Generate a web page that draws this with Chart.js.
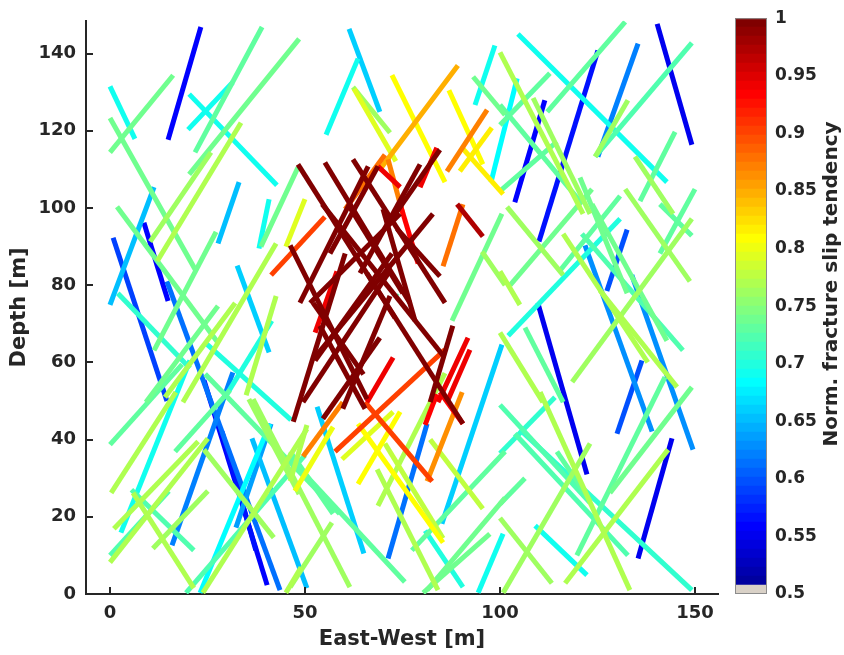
<!DOCTYPE html>
<html>
<head>
<meta charset="utf-8">
<title>Fracture slip tendency</title>
<script src="https://cdn.jsdelivr.net/npm/chart.js@4.4.1/dist/chart.umd.min.js"></script>
<style>
  html, body { margin: 0; padding: 0; background: #fff; }
  #wrap { position: relative; width: 844px; height: 655px; }
  #wrap canvas { position: absolute; top: 0; }
</style>
</head>
<body>
<div id="wrap">
  <canvas id="fracChart" width="844" height="655" style="left:0"></canvas>
  <canvas id="cbarChart" width="124" height="655" style="left:720px"></canvas>
</div>
<script>
// fracture traces: x (East-West) and y (Depth) of both ends, in metres
const fracX = [
  [23.3,14.9],[8.7,14.9],[0.8,14.6],[14.6,43.6],[24.1,40.3],[28.7,37.4],[31.5,15.9],[36.4,50.5],[41.3,32.3],[41,23.1],
  [20.5,2.8],[109.7,122.3],[125.1,110],[111.5,103.8],[135.4,125.1],[140.3,149.2],[132.6,127.4],[121.8,139],[133.8,149.5],[136.4,130],
  [144.1,135.4],[100.5,85.1],[81.3,71.3],[53.1,65.1],[61.3,69.2],[63.6,55.4],[11.3,0],[33.1,27.7],[32.6,40.8],[24.4,58.9],
  [0,6.4],[20,31.5],[20.3,42.8],[40.8,38.2],[104.6,142.8],[104.4,97.7],[98.7,93.6],[102.1,130.8],[105.1,149.2],[109,122.3],
  [80.8,90.5],[100.8,94.4],[24.4,46.4],[0,16.2],[0,22.1],[21.8,39],[20.3,48.5],[25.9,10.3],[33.6,12.1],[48.2,38.7],
  [1.8,27.7],[27.2,11.3],[42.6,18.7],[50,45.1],[0,18.5],[0.3,16.9],[1,22.6],[0,15.1],[0,25.1],[5.5,21.5],
  [5.9,21.5],[11,25.1],[24.1,42],[19.5,50],[23.8,50.5],[35.6,48.5],[45.1,49],[16.7,30.8],[9.2,27.7],[14.1,32.1],
  [2,20.5],[34.9,42.6],[29.5,41.5],[70.5,85.4],[68.5,84.1],[82.1,95.6],[101.3,77.4],[101.3,81.3],[56.9,46.2],[36.7,61.5],
  [46.2,75.6],[46.2,50.5],[68.7,85.9],[47.4,57.2],[59.5,72.6],[63.6,85.4],[63.6,74.4],[46.2,57.2],[80.3,97.4],[100.5,87.7],
  [95.4,101.3],[73.3,73.8],[72.3,85.9],[89.2,69.2],[86.9,95.6],[96.7,86.4],[97.9,89.7],[90.3,100.8],[62.3,71.8],[62.6,73.3],
  [71.3,75.1],[83.8,79.5],[41.3,55.1],[58.2,52.6],[72.6,65.9],[91.8,84.1],[92.3,86.4],[74.4,79],[90.5,85.4],[89,95.6],
  [57.7,85.9],[49.5,59.7],[65.4,82.6],[90.3,81.3],[84.6,90.5],[83.8,80.8],[68.7,74.4],[70.5,60.3],[48.2,73.1],[55.1,76.9],
  [62.3,85.9],[54.4,85.4],[46.2,65.9],[70,78.2],[53.8,65.4],[73.6,84.6],[52.1,82.8],[49.5,71.8],[47,60.3],[51.3,74.4],
  [66.2,48.7],[68.7,56.4],[84.6,70.5],[87.9,82.1],[54.6,69.2],[79.5,64.1],[61,75.1],[132.1,112.1],[149.2,124.4],[100,121.3],
  [112.8,100],[132.8,124.4],[100,120.5],[108.5,123.1],[144.9,135.9],[134.6,144.4],[150,141],[132.1,148.7],[120.5,132.6],[130.8,115.4],
  [123.6,102.6],[100,114.6],[101.8,116.2],[100,105.1],[116.2,137.9],[121,146.9],[123.6,142.8],[125.6,145.4],[118.5,149.2],[141,149.2],
  [100,111],[106.4,116.2],[142.3,119.7],[149.2,128.2],[114.1,100],[100,123.1],[103.8,132.8],[110.3,133.3],[123.1,100.8],[143.1,116.7],
  [100,113.3],[106.4,100],[114.6,123.1],[93.1,101.3],[52.1,65],[52.6,72.3],[65.9,90.5],[59.7,71.8]
];
const fracY = [
  [146.9,117.7],[96.2,75.9],[92.3,50],[81,1],[55.4,2.3],[42.1,11.3],[57.4,12.6],[40.3,1.5],[44.1,17.2],[44.1,0.3],
  [60.5,15.9],[75.4,31],[140.8,91.3],[127.9,101.5],[142.6,113.3],[147.7,116.4],[94.4,78.5],[90.3,42.1],[82.6,37.4],[60.5,41.5],
  [40.3,9.2],[64.6,18.2],[44.1,9.2],[48.5,10.5],[146.4,124.9],[138.7,119],[105.4,74.9],[106.7,90.8],[85.1,62.6],[57,20.8],
  [131.5,117.9],[120.3,132.6],[129.5,105.9],[102.3,89.5],[145.1,106.7],[133.6,106.7],[142.1,126.7],[66.9,97.2],[42.6,1],[17.7,4.9],
  [16.4,1.8],[15.6,0.3],[65.1,45.1],[114.4,134.4],[123.3,83.6],[114.4,146.9],[108.7,143.8],[114.4,91.3],[122.1,86.2],[110.5,90],
  [100.3,65.1],[93.8,63.1],[90.8,49.7],[102.3,90],[38.7,59.5],[26.2,52.3],[16.9,39.5],[10,26.7],[8.2,40.3],[27,11.3],
  [26.2,1.5],[11.8,26.7],[37.4,14.6],[0.3,36],[0.3,42.8],[50.5,25.9],[0.3,6.9],[36.9,52.8],[49.7,74.6],[51,75.4],
  [77.9,58.5],[51.5,77.2],[51,70.8],[39,14.4],[32.3,1],[40,22.1],[36.9,11.3],[24.9,1],[18.5,1.8],[50.5,1.8],
  [35.1,3.1],[29.2,43.8],[22.8,57.2],[26.7,43.3],[34.9,47.2],[44.1,13.3],[28.5,47.2],[36.9,20.8],[0.3,15.6],[98.5,70.8],
  [88.7,80],[77.4,77],[134.4,106.7],[136.9,110],[130.5,111.3],[125.4,109.5],[120.8,109.5],[115.6,103.6],[131.3,119.5],[130.8,112.1],
  [112.6,98.5],[115.6,105.4],[82.6,97.7],[83.6,67.7],[61.3,49.7],[66.4,49.7],[63.3,49.7],[101,85.6],[101,84.9],[101,92.6],
  [36.9,63.3],[35.6,49.7],[49.7,29.2],[52.3,29.2],[52.3,44.1],[51.8,43.8],[110.8,105.4],[113.8,99.7],[111.3,71.5],[111.8,75.4],
  [112.6,75.4],[101,61.8],[90.3,50.5],[99.7,70.8],[69.5,48],[94.6,82.3],[60.8,98.5],[49.7,83.8],[44.6,88.2],[75.4,98.5],
  [110.8,75.4],[110.8,88.2],[115.1,94.6],[69.5,49.7],[45.4,66.4],[111.3,83.1],[101,77.9],[148.2,124.9],[142.8,113.3],[140.3,98.5],
  [134.9,121.5],[127.9,113.3],[126.7,101.8],[128.5,98.5],[119.7,101.8],[113.3,98.5],[104.9,88.2],[104.9,81],[107.9,77.9],[103.1,83.8],
  [104.9,80],[104.4,117.2],[100.3,82.6],[83.6,74.9],[93.3,60],[93.3,63.1],[101,65.6],[78.7,53.6],[54.9,97.2],[101,92.8],
  [67.7,49.7],[69,49.7],[56.2,10],[53.6,26.2],[51,36.4],[49,23.6],[41.5,10],[52.3,1],[39,0.3],[37.4,2.8],
  [19.7,2.8],[30,23.3],[36.9,24.1],[134,124.1],[75.4,56.9],[60.5,88.2],[83.1,44.1],[48,77.2]
];
// normalised slip tendency of each trace
const slip = [
  .555,.56,.59,.61,.555,.57,.62,.65,.64,.68,
  .69,.55,.57,.555,.62,.55,.6,.63,.63,.6,
  .55,.66,.61,.66,.66,.69,.65,.65,.66,.73,
  .69,.69,.69,.69,.69,.68,.69,.7,.71,.69,
  .7,.69,.7,.74,.74,.73,.74,.76,.77,.74,
  .74,.74,.77,.79,.73,.77,.77,.72,.77,.72,
  .77,.76,.76,.72,.77,.76,.77,.73,.74,.77,
  .71,.77,.7,.78,.77,.78,.73,.74,.76,.76,
  .73,.77,.77,.8,.79,.81,.81,.73,.74,.74,
  .76,.72,.81,.85,.81,.87,.82,.82,.76,.79,
  .87,.94,.9,.94,.94,.94,.94,.93,.88,.97,
  .9,.87,.9,.86,.93,.93,.94,.88,1,1,
  1,1,1,1,1,1,1,1,1,1,
  1,1,1,1,1,1,1,.73,.72,.77,
  .73,.76,.73,.76,.73,.76,.73,.76,.74,.73,
  .74,.73,.76,.77,.77,.72,.74,.77,.76,.73,
  .77,.73,.73,.74,.71,.72,.72,.77,.76,.77,
  .76,.73,.73,.74,1,1,1,1
];

const xTicks = [0, 50, 100, 150];
const yTicks = [0, 20, 40, 60, 80, 100, 120, 140];
const cbTicks = [0.5, 0.55, 0.6, 0.65, 0.7, 0.75, 0.8, 0.85, 0.9, 0.95, 1];
const cbTickLabels = ['0.5', '0.55', '0.6', '0.65', '0.7', '0.75', '0.8', '0.85', '0.9', '0.95', '1'];
const slipMin = 0.5, slipMax = 1;

const ink = '#262626';
const tickFont = { family: 'DejaVu Sans', weight: 'bold', size: 18 };
const labelFont = { family: 'DejaVu Sans', weight: 'bold', size: 21 };
const cbarFont = { family: 'DejaVu Sans', weight: 'bold', size: 17 };

// matlab style jet(m)
function jetMap(m) {
  const n = Math.ceil(m / 4);
  const u = [];
  for (let i = 1; i <= n; i++) u.push(i / n);
  for (let i = 1; i < n; i++) u.push(1);
  for (let i = n; i >= 1; i--) u.push(i / n);
  const off = Math.ceil(n / 2) - (m % 4 === 1 ? 1 : 0);
  const map = Array.from({ length: m }, () => [0, 0, 0]);
  u.forEach((val, j) => {
    const g = off + j, r = g + n, b = g - n;
    if (g >= 0 && g < m) map[g][1] = val;
    if (r >= 0 && r < m) map[r][0] = val;
    if (b >= 0 && b < m) map[b][2] = val;
  });
  return map;
}
const cmap = jetMap(64);
cmap[0] = [0.85, 0.82, 0.78]; // lowest bin greyed out

function rgb(c) {
  return 'rgb(' + c.map(v => Math.round(v * 255)).join(',') + ')';
}
function slipColor(v) {
  let i = Math.floor((v - slipMin) / (slipMax - slipMin) * cmap.length);
  i = Math.max(0, Math.min(cmap.length - 1, i));
  return rgb(cmap[i]);
}

// highest slip first so it ends up drawn on top
const order = slip.map((v, i) => i).sort((a, b) => slip[b] - slip[a]);
const fracSets = order.map(i => ({
  data: [{ x: fracX[i][0], y: fracY[i][0] }, { x: fracX[i][1], y: fracY[i][1] }],
  showLine: true,
  borderColor: slipColor(slip[i]),
  borderWidth: 5,
  pointRadius: 0,
  fill: false
}));

const inwardTicks = {
  id: 'inwardTicks',
  afterDraw(chart) {
    const { ctx, chartArea, scales: { x, y } } = chart;
    ctx.save();
    ctx.strokeStyle = ink;
    ctx.lineWidth = 2;
    ctx.beginPath();
    xTicks.forEach(v => {
      const px = Math.round(x.getPixelForValue(v));
      ctx.moveTo(px, chartArea.bottom);
      ctx.lineTo(px, chartArea.bottom - 7);
    });
    yTicks.forEach(v => {
      const py = Math.round(y.getPixelForValue(v));
      ctx.moveTo(chartArea.left, py);
      ctx.lineTo(chartArea.left + 7, py);
    });
    ctx.stroke();
    ctx.restore();
  }
};

new Chart(document.getElementById('fracChart'), {
  type: 'scatter',
  data: { datasets: fracSets },
  options: {
    responsive: false,
    animation: false,
    layout: { padding: { top: 15, right: 126, left: 0, bottom: 0 } },
    plugins: { legend: { display: false }, tooltip: { enabled: false } },
    scales: {
      x: {
        type: 'linear', min: -6.15, max: 155.9,
        afterBuildTicks: s => { s.ticks = xTicks.map(v => ({ value: v })); },
        afterFit: s => { s.height = 61; },
        grid: { display: false, drawTicks: false },
        border: { display: true, color: ink, width: 2 },
        ticks: { color: ink, font: tickFont, padding: 9, maxRotation: 0 },
        title: { display: true, text: 'East-West [m]', color: ink, font: labelFont, padding: { top: 0, bottom: 3 } }
      },
      y: {
        type: 'linear', min: 0, max: 148.5,
        afterBuildTicks: s => { s.ticks = yTicks.map(v => ({ value: v })); },
        afterFit: s => { s.width = 86; },
        grid: { display: false, drawTicks: false },
        border: { display: true, color: ink, width: 2 },
        ticks: { color: ink, font: tickFont, padding: 10 },
        title: { display: true, text: 'Depth [m]', color: ink, font: labelFont, padding: { top: 7, bottom: 0 } }
      }
    }
  },
  plugins: [inwardTicks]
});

// colour bar: one floating bar per colormap bin
const binW = (slipMax - slipMin) / cmap.length;
const cbarSets = cmap.map((c, i) => ({
  data: [[slipMin + i * binW, slipMin + (i + 1) * binW]],
  backgroundColor: rgb(c),
  borderWidth: 0,
  barPercentage: 1,
  categoryPercentage: 1,
  grouped: false
}));

const cbarFrame = {
  id: 'cbarFrame',
  afterDraw(chart) {
    const { ctx, chartArea: a } = chart;
    ctx.save();
    ctx.strokeStyle = '#8c8c8c';
    ctx.lineWidth = 1;
    ctx.strokeRect(a.left + 0.5, a.top + 0.5, a.right - a.left - 1, a.bottom - a.top - 1);
    // colour bar label, reading upwards
    ctx.translate(112, 284);
    ctx.rotate(-Math.PI / 2);
    ctx.fillStyle = ink;
    ctx.font = 'bold 20px "DejaVu Sans"';
    ctx.textAlign = 'center';
    ctx.textBaseline = 'middle';
    ctx.fillText('Norm. fracture slip tendency', 0, 0);
    ctx.restore();
  }
};

new Chart(document.getElementById('cbarChart'), {
  type: 'bar',
  data: { labels: [''], datasets: cbarSets },
  options: {
    responsive: false,
    animation: false,
    layout: { padding: { left: 15, top: 15, bottom: 61, right: 0 } },
    plugins: { legend: { display: false }, tooltip: { enabled: false } },
    scales: {
      x: { display: false },
      y: {
        position: 'right', min: slipMin, max: slipMax,
        afterBuildTicks: s => { s.ticks = cbTicks.map(v => ({ value: v })); },
        afterFit: s => { s.width = 77; },
        grid: { display: false, drawTicks: false },
        border: { display: false },
        ticks: { color: ink, font: cbarFont, padding: 8, callback: (v, i) => cbTickLabels[i] }
      }
    }
  },
  plugins: [cbarFrame]
});
</script>
</body>
</html>
